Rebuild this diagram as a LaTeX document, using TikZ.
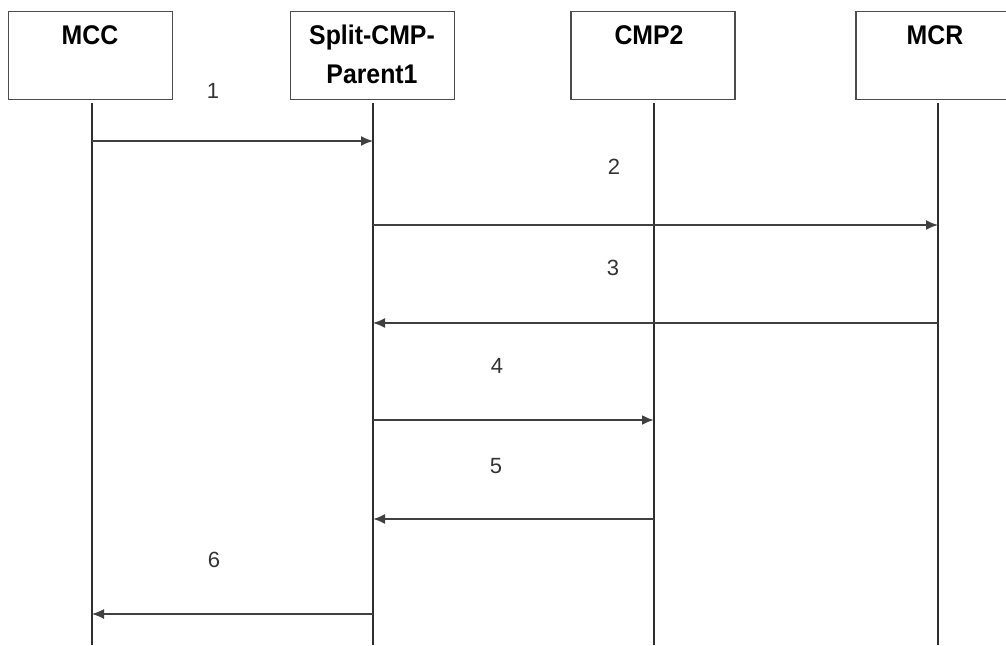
\documentclass[tikz,border=0pt]{standalone}
\usepackage{fontspec}
\setmainfont{Liberation Sans}
\newfontfamily\ttlfont[FakeStretch=0.92]{Liberation Sans}
\usetikzlibrary{arrows.meta}
\begin{document}
\begin{tikzpicture}[x=1pt,y=-1pt,
  actor/.style={draw=black!70, line width=1.4pt, fill=white, minimum width=164pt, minimum height=88pt, anchor=north, inner sep=0pt},
  life/.style={line width=2.6pt, draw=black!82},
  msg/.style={line width=1.6pt, draw=black!75, -{Latex[length=12pt,width=10pt]}},
  lbl/.style={font=\fontsize{22}{22}\selectfont, text=black!80, inner sep=0pt},
  ttl/.style={font=\ttlfont\bfseries\fontsize{27}{39}\selectfont, align=center, anchor=north, inner sep=0pt}]
\useasboundingbox (0,0) rectangle (1006,645);
\clip (0,0) rectangle (1006,645);
% actor boxes
\node[actor] (mcc) at (90.5,10.5) {};
\node[actor] (spl) at (372.5,10.5) {};
\node[actor] (cmp) at (653,10.5) {};
\node[actor] (mcr) at (938,10.5) {};
% titles
\node[ttl] (tmcc) at (90,25) {MCC};
\node[ttl] (tspl) at (372,24.5) {Split-CMP-\\Parent1};
\node[ttl] (tcmp) at (649,25) {CMP2};
\node[ttl] (tmcr) at (935,25) {MCR};
% lifelines
\coordinate (a0) at (92,103);  \coordinate (a9) at (92,645);
\coordinate (b0) at (373,103); \coordinate (b9) at (373,645);
\coordinate (c0) at (654,103); \coordinate (c9) at (654,645);
\coordinate (d0) at (938,103); \coordinate (d9) at (938,645);
\draw[life] (a0) -- (a9);
\draw[life] (b0) -- (b9);
\draw[life] (c0) -- (c9);
\draw[life] (d0) -- (d9);
% messages
\coordinate (a1) at (92,141);  \coordinate (b1) at (373,141);
\coordinate (b2) at (373,225); \coordinate (d2) at (938,225);
\coordinate (d3) at (938,323); \coordinate (b3) at (373,323);
\coordinate (b4) at (373,420); \coordinate (c4) at (654,420);
\coordinate (c5) at (654,519); \coordinate (b5) at (373,519);
\coordinate (b6) at (373,614); \coordinate (a6) at (92,614);
\draw[msg] (a1) -- (b1);
\draw[msg] (b2) -- (d2);
\draw[msg] (d3) -- (b3);
\draw[msg, line width=2.2pt] (b4) -- (c4);
\draw[msg, line width=2pt] (c5) -- (b5);
\draw[msg, line width=1.2pt] (b6) -- (a6);
% labels
\node[lbl] (l1) at (213,91) {1};
\node[lbl] (l2) at (614,167) {2};
\node[lbl] (l3) at (613,268) {3};
\node[lbl] (l4) at (497,366) {4};
\node[lbl] (l5) at (496,466) {5};
\node[lbl] (l6) at (214,560) {6};
\end{tikzpicture}
\end{document}
